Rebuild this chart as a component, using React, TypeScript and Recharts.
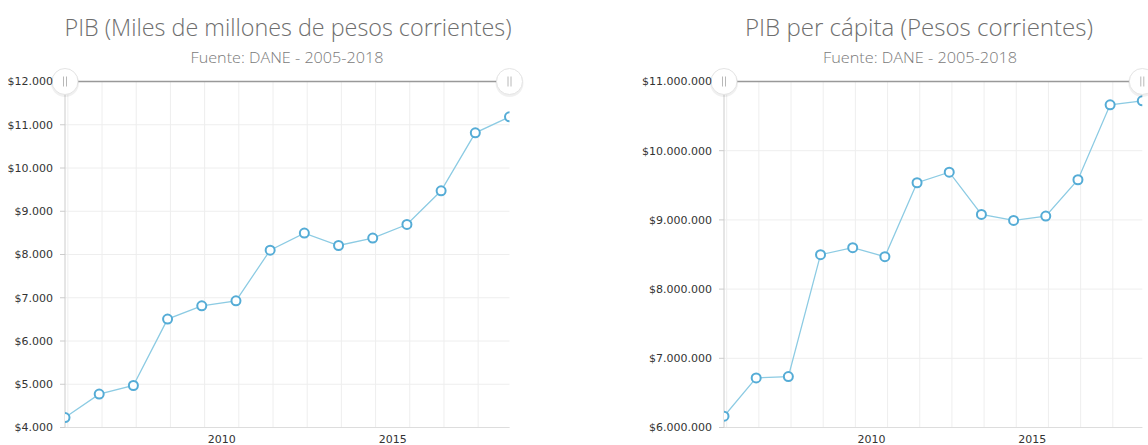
import React from 'react';
import { LineChart, Line, XAxis, YAxis, CartesianGrid, ReferenceLine, ReferenceDot } from 'recharts';

// ---- Data ----
const years = [2005, 2006, 2007, 2008, 2009, 2010, 2011, 2012, 2013, 2014, 2015, 2016, 2017, 2018];
const pibValues = [4230, 4772, 4971, 6506, 6814, 6929, 8100, 8495, 8208, 8379, 8694, 9473, 10814, 11184];
const pibPerCapitaValues = [6163000, 6716000, 6736000, 8497000, 8598000, 8469000, 9537000, 9690000, 9079000, 8993000, 9055000, 9580000, 10663000, 10721000];
const pibTicks = [4000, 5000, 6000, 7000, 8000, 9000, 10000, 11000, 12000];
const perCapitaTicks = [6000000, 7000000, 8000000, 9000000, 10000000, 11000000];
const yearLabels = [2010, 2015];
const gridYears = [2006, 2007, 2008, 2009, 2010, 2011, 2012, 2013, 2014, 2015, 2016, 2017, 2018];

const leftTitle = 'PIB (Miles de millones de pesos corrientes)';
const rightTitle = 'PIB per cápita (Pesos corrientes)';
const subtitle = 'Fuente: DANE - 2005-2018';

// points are dated on Dec 1st of each year (date axis)
const DATE_OFFSET = 11 / 12;

const pibData = years.map((y, i) => ({ t: y + DATE_OFFSET, value: pibValues[i] }));
const perCapitaData = years.map((y, i) => ({ t: y + DATE_OFFSET, value: pibPerCapitaValues[i] }));
// year labels sit in the middle of their year cell
const labelTicks = yearLabels.map((y) => y + 0.5);
const xDomain = [years[0] + DATE_OFFSET, years[years.length - 1] + DATE_OFFSET];

const fmt = (v: number) => '$' + Math.round(v).toString().replace(/\B(?=(\d{3})+(?!\d))/g, '.');

const LINE_COLOR = '#8ccbe3';
const DOT_COLOR = '#55acd6';
const GRID_COLOR = '#eeeeee';
const TICK_FONT = { fontFamily: 'DejaVu Sans, Verdana, sans-serif', fontSize: 11, fill: '#333' };

const Grip = (props: any) => {
  const { cx, cy } = props;
  if (cx == null || cy == null) return null;
  return (
    <g>
      <circle cx={cx} cy={cy + 1.5} r={14} fill="#000" opacity={0.06} />
      <circle cx={cx} cy={cy} r={13} fill="#fff" stroke="#e4e4e4" strokeWidth={1} />
      <line x1={cx - 1.5} x2={cx - 1.5} y1={cy - 5} y2={cy + 5} stroke="#b8b8b8" strokeWidth={1} />
      <line x1={cx + 1.5} x2={cx + 1.5} y1={cy - 5} y2={cy + 5} stroke="#b8b8b8" strokeWidth={1} />
    </g>
  );
};

type PanelProps = {
  data: { t: number; value: number }[];
  ticks: number[];
  margin: { top: number; right: number; bottom: number; left: number };
  yWidth: number;
  left: number;
};

const Panel = ({ data, ticks, margin, yWidth, left }: PanelProps) => {
  const yMin = ticks[0];
  const yMax = ticks[ticks.length - 1];
  return (
    <div style={{ position: 'absolute', left, top: 0 }}>
      <LineChart width={574} height={445} data={data} margin={margin}>
        <CartesianGrid vertical={false} stroke={GRID_COLOR} />
        {gridYears.map((g) => (
          <ReferenceLine key={g} x={g} stroke={GRID_COLOR} ifOverflow="hidden" />
        ))}
        <XAxis
          type="number"
          dataKey="t"
          domain={xDomain}
          ticks={labelTicks}
          tickFormatter={(v: number) => String(Math.floor(v))}
          tickLine={false}
          axisLine={{ stroke: '#dddddd' }}
          tick={TICK_FONT}
          height={15}
          interval={0}
          allowDataOverflow
        />
        <YAxis
          type="number"
          domain={[yMin, yMax]}
          ticks={ticks}
          tickFormatter={fmt}
          width={yWidth}
          tickSize={5}
          tickMargin={7}
          tickLine={{ stroke: '#cccccc' }}
          axisLine={{ stroke: '#cccccc' }}
          tick={TICK_FONT}
          interval={0}
        />
        <ReferenceLine y={yMax} stroke="#999999" strokeWidth={1.5} />
        <Line
          type="linear"
          dataKey="value"
          stroke={LINE_COLOR}
          strokeWidth={1.3}
          dot={{ r: 4.5, stroke: DOT_COLOR, strokeWidth: 2, fill: '#ffffff' }}
          isAnimationActive={false}
        />
        <ReferenceDot x={xDomain[0]} y={yMax} shape={Grip} ifOverflow="visible" />
        <ReferenceDot x={xDomain[1]} y={yMax} shape={Grip} ifOverflow="visible" />
      </LineChart>
    </div>
  );
};

export default function App() {
  const titleStyle = { fontFamily: '"Open Sans", Lato, sans-serif', fontWeight: 300 } as const;
  return (
    <div style={{ position: 'absolute', left: 0, top: 0, width: 1148, height: 445, background: '#fff', overflow: 'hidden' }}>
      <Panel data={pibData} ticks={pibTicks} margin={{ top: 81.5, right: 64.5, bottom: 2.5, left: 5 }} yWidth={60} left={0} />
      <Panel data={perCapitaData} ticks={perCapitaTicks} margin={{ top: 81.5, right: 5.7, bottom: 2.5, left: 60 }} yWidth={90} left={574} />
      <svg width={1148} height={75} style={{ position: 'absolute', left: 0, top: 0, pointerEvents: 'none' }}>
        <text x={288} y={36} textAnchor="middle" fontSize={24} fill="#6e6e6e" textLength={447} lengthAdjust="spacingAndGlyphs" style={titleStyle}>{leftTitle}</text>
        <text x={287} y={63} textAnchor="middle" fontSize={15} fill="#7a7a7a" textLength={193} lengthAdjust="spacingAndGlyphs" style={titleStyle}>{subtitle}</text>
        <text x={919} y={36} textAnchor="middle" fontSize={24} fill="#6e6e6e" textLength={348} lengthAdjust="spacingAndGlyphs" style={titleStyle}>{rightTitle}</text>
        <text x={920} y={63} textAnchor="middle" fontSize={15} fill="#7a7a7a" textLength={194} lengthAdjust="spacingAndGlyphs" style={titleStyle}>{subtitle}</text>
      </svg>
    </div>
  );
}
